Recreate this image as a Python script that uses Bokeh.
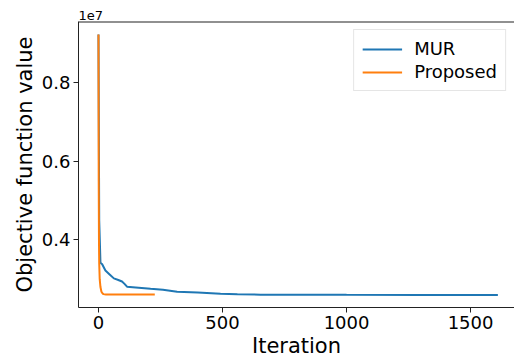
from bokeh.plotting import figure
from bokeh.models import FixedTicker, Legend, LegendItem, Span, Range1d
from bokeh.embed import file_html
from bokeh.resources import INLINE

# ---- data ----
mur_iter = [0, 3, 8, 15, 28, 45, 62, 80, 95, 105, 115, 150, 210, 260, 317, 400, 492, 560, 653, 800, 1000, 1300, 1610]
mur_val = [9.22e6, 4.5e6, 3.42e6, 3.38e6, 3.22e6, 3.12e6, 3.02e6, 2.98e6, 2.94e6, 2.88e6, 2.81e6, 2.79e6,
           2.755e6, 2.73e6, 2.683e6, 2.66e6, 2.632e6, 2.615e6, 2.606e6, 2.603e6, 2.601e6, 2.60e6, 2.60e6]

prop_iter = [0, 1, 2, 3, 5, 8, 12, 16, 20, 30, 227]
prop_val = [9.22e6, 5.5e6, 4.0e6, 3.4e6, 3.0e6, 2.8e6, 2.68e6, 2.64e6, 2.62e6, 2.61e6, 2.61e6]

series_names = ["MUR", "Proposed"]
series_colors = ["#1f77b4", "#ff7f0e"]

x_ticks = [0, 500, 1000, 1500]
y_ticks = [4e6, 6e6, 8e6]
y_tick_labels = ["0.4", "0.6", "0.8"]
x_label = "Iteration"
y_label = "Objective function value"
offset_text = "1e7"

x_start, x_end = -80.5, 1677
y_start, y_end = 2.28e6, 9.55e6

FONT = "DejaVu Sans"
TXT = "#000000"

p = figure(width=514, height=360, output_backend="svg", toolbar_location=None,
           x_range=Range1d(x_start, x_end), y_range=Range1d(y_start, y_end),
           min_border_left=78, min_border_top=21, min_border_right=0, min_border_bottom=53)
p.grid.visible = False
p.outline_line_color = None
p.background_fill_color = "white"
p.border_fill_color = "white"

# "1e7" offset text as title
p.title.text = offset_text
p.title.text_font = FONT
p.title.text_font_size = "13px"
p.title.text_font_style = "normal"
p.title.text_color = TXT
p.title.align = "left"
p.title.offset = 0
p.title.standoff = 4

r1 = p.line(mur_iter, mur_val, line_color=series_colors[0], line_width=2)
r2 = p.line(prop_iter, prop_val, line_color=series_colors[1], line_width=2)

for ax in (p.xaxis[0], p.yaxis[0]):
    ax.major_tick_out = 5
    ax.major_tick_in = 0
    ax.minor_tick_line_color = None
    ax.axis_line_color = "#222222"
    ax.major_tick_line_color = "#222222"
    ax.major_label_text_font = FONT
    ax.major_label_text_font_size = "18px"
    ax.major_label_text_color = TXT
    ax.axis_label_text_font = FONT
    ax.axis_label_text_font_size = "21px"
    ax.axis_label_text_font_style = "normal"
    ax.axis_label_text_color = TXT
    ax.major_label_standoff = 3
    ax.axis_label_standoff = 2

p.xaxis[0].ticker = FixedTicker(ticks=x_ticks)
p.yaxis[0].ticker = FixedTicker(ticks=y_ticks)
p.yaxis[0].major_label_overrides = {t: l for t, l in zip(y_ticks, y_tick_labels)}
p.xaxis[0].axis_label = x_label
p.yaxis[0].axis_label = y_label

# top spine
p.add_layout(Span(location=y_end, dimension="width", line_color="#222222", line_width=2))

legend = Legend(items=[LegendItem(label=series_names[0], renderers=[r1]),
                       LegendItem(label=series_names[1], renderers=[r2])],
                location="top_right", margin=8)
legend.label_text_font = FONT
legend.label_text_font_size = "18px"
legend.label_text_color = TXT
legend.glyph_width = 40
legend.label_standoff = 12
legend.spacing = 2
legend.padding = 8
legend.border_line_color = "#cccccc"
legend.border_line_width = 1
p.add_layout(legend)

open("out.html", "w").write(file_html(p, INLINE))
